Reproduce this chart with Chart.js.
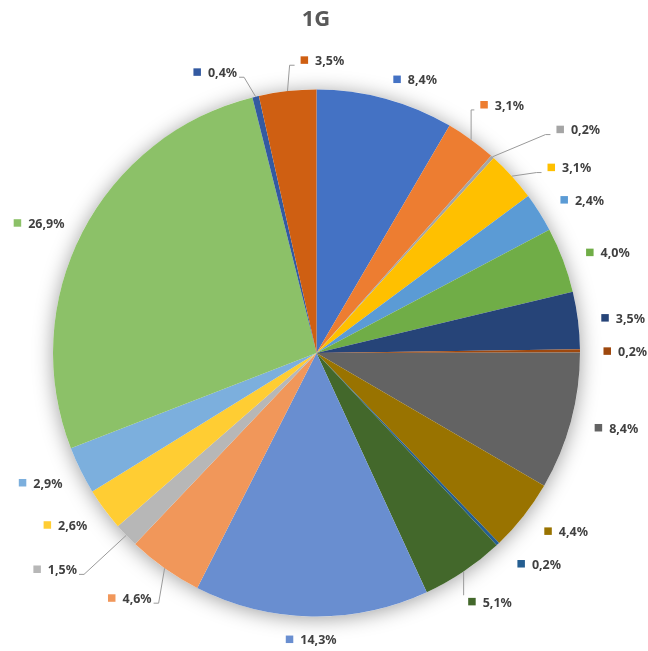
<!DOCTYPE html>
<html>
<head>
<meta charset="utf-8">
<script src="https://cdn.jsdelivr.net/npm/chart.js@4/dist/chart.umd.min.js"></script>
<style>
  html, body { margin: 0; padding: 0; background: #ffffff; }
  #wrap { width: 648px; height: 651px; position: relative; }
</style>
</head>
<body>
<div id="wrap"><canvas id="pie"></canvas></div>
<script>
// Share of each item, in percent, clockwise from 12 o'clock
const chartTitle = '1G';
const categories = [
  'Item 1', 'Item 2', 'Item 3', 'Item 4', 'Item 5',
  'Item 6', 'Item 7', 'Item 8', 'Item 9', 'Item 10',
  'Item 11', 'Item 12', 'Item 13', 'Item 14', 'Item 15',
  'Item 16', 'Item 17', 'Item 18', 'Item 19', 'Item 20'
];
const shares = [8.4, 3.1, 0.2, 3.1, 2.4, 4.0, 3.5, 0.2, 8.4, 4.4,
                0.2, 5.1, 14.3, 4.6, 1.5, 2.6, 2.9, 26.9, 0.4, 3.5];
const sliceColors = [
  '#4472C4', '#ED7D31', '#A5A5A5', '#FFC000', '#5B9BD5',
  '#70AD47', '#264478', '#9E480E', '#636363', '#997300',
  '#255E91', '#43682B', '#698ED0', '#F1975A', '#B7B7B7',
  '#FFCD33', '#7CAFDD', '#8CC168', '#335AA1', '#CF5F12'
];
// Label nudges away from the default outside spot, [dx, dy] in px
const labelShift = [
  [2, 3], [-4, -16], [49, -10], [19, 7], [2, 0],
  [2, 1], [1, 1], [1, 1], [2, 1], [3, 2],
  [4, 4], [-8, 12], [2, 1], [0, 12], [-33, 19],
  [1, 3], [2, 3], [2, 2], [-15, -2], [47, -8]
];

const LABEL_FONT = 'bold 12.5px "Noto Sans", "Open Sans", sans-serif';
const TITLE_FONT = 'bold 22px "Noto Sans", "Open Sans", sans-serif';
const LABEL_GAP = 22.5;      // distance of label anchor outside the rim
const MARKER = 7.5;
const MARKER_GAP = 7;

function fmtPct(v) {
  return v.toFixed(1).replace('.', ',') + '%';
}

const pieDecor = {
  id: 'pieDecor',
  beforeDatasetsDraw(chart) {
    // soft drop shadow under the whole pie
    const el = chart.getDatasetMeta(0).data[0];
    const p = el.getProps(['x', 'y', 'outerRadius'], true);
    const ctx = chart.ctx;
    ctx.save();
    ctx.shadowColor = 'rgba(0,0,0,0.38)';
    ctx.shadowBlur = 20;
    ctx.shadowOffsetY = 2;
    ctx.fillStyle = '#ffffff';
    ctx.beginPath();
    ctx.arc(p.x, p.y, p.outerRadius, 0, Math.PI * 2);
    ctx.fill();
    ctx.restore();
  },
  afterDatasetsDraw(chart) {
    const ctx = chart.ctx;
    const meta = chart.getDatasetMeta(0);
    ctx.save();
    ctx.font = LABEL_FONT;
    meta.data.forEach((el, i) => {
      const p = el.getProps(['x', 'y', 'startAngle', 'endAngle', 'outerRadius'], true);
      const mid = (p.startAngle + p.endAngle) / 2;
      const ux = Math.cos(mid), uy = Math.sin(mid);
      const txt = fmtPct(shares[i]);
      const tw = ctx.measureText(txt).width;
      const W = MARKER + MARKER_GAP + tw;
      const rr = p.outerRadius + LABEL_GAP;
      const ax = p.x + rr * ux, ay = p.y + rr * uy;
      const k = Math.max(-1, Math.min(1, 4 * ux));
      const [dx, dy] = labelShift[i];
      const left = ax - W / 2 + k * W / 2 + dx;
      const cy = ay + dy;

      // leader line for labels moved off their default spot
      if (Math.hypot(dx, dy) > 8) {
        const px = p.x + p.outerRadius * ux, py = p.y + p.outerRadius * uy;
        const bl = left - 6, br = left + W + 2, bt = cy - 7, bb = cy + 4.5;
        ctx.strokeStyle = '#9a9a9a';
        ctx.lineWidth = 1;
        ctx.beginPath();
        ctx.moveTo(px, py);
        if (px >= bl && px <= br) {
          ctx.lineTo(px, py < cy ? bt : bb);
        } else {
          const side = px < bl ? bl : br;
          const dir = px < bl ? -1 : 1;
          const elbow = Math.min(5, Math.abs(px - side));
          ctx.lineTo(side + dir * elbow, bb);
          ctx.lineTo(side, bb);
        }
        ctx.stroke();
      }

      ctx.fillStyle = sliceColors[i];
      ctx.fillRect(left, cy - 4.4, MARKER, MARKER);
      ctx.fillStyle = '#404040';
      ctx.textBaseline = 'alphabetic';
      ctx.textAlign = 'left';
      ctx.fillText(txt, left + MARKER + MARKER_GAP, cy + 4.4);
    });
    ctx.restore();
  },
  afterDraw(chart) {
    const ctx = chart.ctx;
    ctx.save();
    ctx.font = TITLE_FONT;
    ctx.fillStyle = '#595959';
    ctx.textAlign = 'center';
    ctx.textBaseline = 'alphabetic';
    ctx.fillText(chartTitle, 316, 26);
    ctx.restore();
  }
};

new Chart(document.getElementById('pie'), {
  type: 'pie',
  data: {
    labels: categories,
    datasets: [{
      data: shares,
      backgroundColor: sliceColors,
      borderWidth: 0,
      hoverBorderWidth: 0,
      offset: 0,
      hoverOffset: 0
    }]
  },
  options: {
    responsive: true,
    maintainAspectRatio: false,
    animation: false,
    layout: { padding: { left: 53, right: 68, top: 89.5, bottom: 34.5 } },
    plugins: {
      legend: { display: false },
      tooltip: { enabled: false },
      title: { display: false }
    },
    events: []
  },
  plugins: [pieDecor]
});
</script>
</body>
</html>
